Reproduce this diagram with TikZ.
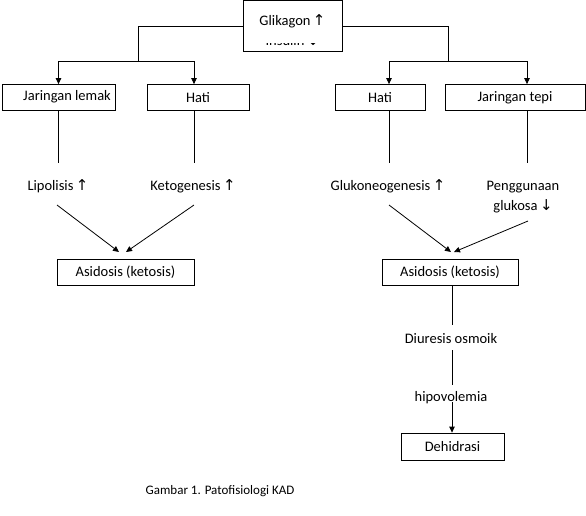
\documentclass[tikz,border=0pt]{standalone}
\usepackage{fontspec}
\setmainfont{Carlito}
\newfontfamily\arr{DejaVu Sans}
\newcommand\upar{\,{\arr\fontsize{15}{17}\selectfont↑}}
\newcommand\dnar{\,{\arr\fontsize{15}{17}\selectfont↓}}
\usetikzlibrary{arrows.meta}
\begin{document}
\begin{tikzpicture}[x=1pt,y=-1pt,
  every node/.style={font=\fontsize{14.5}{16.5}\selectfont, inner sep=0pt},
  box/.style={draw, line width=0.8pt, minimum height=26pt},
  txt/.style={align=center},
  con/.style={line width=0.8pt},
  arw/.style={con, -{Triangle[length=6pt,width=5.5pt]}}]
\useasboundingbox (0,0) rectangle (586,515);
% top box
\node[draw, line width=0.8pt, minimum width=99pt, minimum height=51pt] (g) at (292.5,26) {};
\node[txt] (gt) at (292.5,21) {Glikagon\upar};
\begin{scope}
\clip (244,43) rectangle (341,50);
\node[txt] (gi) at (292.5,40.5) {Insulin\dnar};
\end{scope}
% second row
\node[box, minimum width=113pt] (jl) at (58.5,97.5) {};
\node[txt] (jlt) at (67,97) {Jaringan lemak};
\node[box, minimum width=102pt] (h1) at (198,97.5) {Hati};
\node[box, minimum width=90pt] (h2) at (380,97.5) {Hati};
\node[box, minimum width=140pt] (jt) at (515,97.5) {Jaringan tepi};
\coordinate (cL) at (138,61);
\coordinate (cR) at (448,61);
\draw[con] (g.west) -| (cL);
\draw[con] (g.east) -| (cR);
\draw[arw] (cL) -| (jl.north);
\draw[arw] (cL) -| (h1.north -| 194,0);
\draw[arw] (cR) -| (h2.north -| 389,0);
\draw[arw] (cR) -| (jt.north -| 527,0);
% third row texts
\node[txt] (lip) at (58,186) {Lipolisis\upar};
\node[txt] (ket) at (193,186) {Ketogenesis\upar};
\node[txt] (glu) at (388,186) {Glukoneogenesis\upar};
\node[txt, align=center] (pen) at (523,197) {Penggunaan\\[3pt]glukosa\dnar};
\coordinate (lipT) at (58,163);
\coordinate (ketT) at (194,163);
\coordinate (gluT) at (389,163);
\coordinate (penT) at (527,163);
\draw[con] (jl.south -| lipT) -- (lipT);
\draw[con] (h1.south -| ketT) -- (ketT);
\draw[con] (h2.south -| gluT) -- (gluT);
\draw[con] (jt.south -| penT) -- (penT);
% asidosis boxes
\node[box, minimum width=137pt] (a1) at (125.5,272) {Asidosis (ketosis)};
\node[box, minimum width=136pt] (a2) at (450,272) {Asidosis (ketosis)};
\coordinate (lipB) at (57,205);
\coordinate (ketB) at (194,205);
\coordinate (gluB) at (389,205);
\coordinate (penB) at (528,221);
\coordinate (a1L) at (119,252);
\coordinate (a1R) at (126,252);
\coordinate (a2L) at (451,252);
\coordinate (a2R) at (454,252);
\draw[arw] (lipB) -- (a1L);
\draw[arw] (ketB) -- (a1R);
\draw[arw] (gluB) -- (a2L);
\draw[arw] (penB) -- (a2R);
% lower chain
\node[txt] (diu) at (451,339) {Diuresis osmoik};
\node[txt] (hip) at (451,398) {hipovolemia};
\node[box, minimum width=103pt, minimum height=27pt] (deh) at (452.5,446.5) {Dehidrasi};
\coordinate (diuT) at (452,325);
\coordinate (diuB) at (452,350);
\coordinate (hipT) at (452,385);
\coordinate (hipB) at (452,402);
\draw[con] (a2.south -| diuT) -- (diuT);
\draw[con] (diuB) -- (hipT);
\draw[arw] (hipB) -- (deh.north -| hipB);
% caption
\node[txt, font=\fontsize{13}{15}\selectfont] (cap) at (220,491) {Gambar 1. Patofisiologi KAD};
\end{tikzpicture}
\end{document}
